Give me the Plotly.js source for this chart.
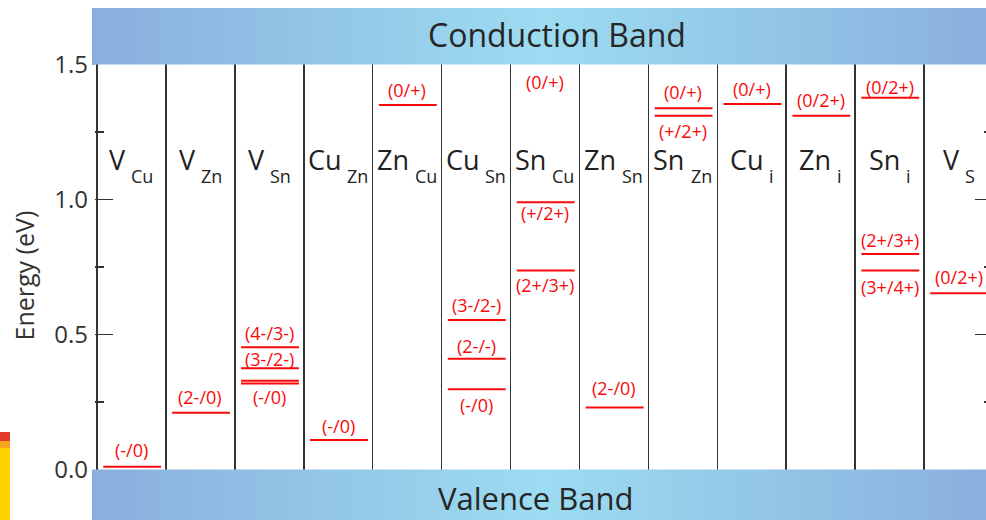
<!DOCTYPE html>
<html><head><meta charset="utf-8">
<script src="https://cdn.plot.ly/plotly-3.0.1.min.js"></script>
<style>html,body{margin:0;padding:0;overflow:hidden;background:#fff}#chart{width:993px;height:520px}</style>
</head><body><div id="chart"></div>
<script>
// ---- data ----
const defectBase = ['V','V','V','Cu','Zn','Cu','Sn','Zn','Sn','Cu','Zn','Sn','V'];
const defectSub  = ['Cu','Zn','Sn','Zn','Cu','Sn','Cu','Sn','Zn','i','i','i','S'];

// transition levels (column index, energy in eV above VBM)
const levelCol = [0,1,2,2,2,2,3,4,5,5,5,6,6,7,8,8,9,10,11,11,11,12];
const levelE   = [0.010,0.210,0.453,0.375,0.329,0.319,0.109,1.350,0.554,0.410,0.297,0.990,0.737,0.230,1.338,1.310,1.354,1.310,1.377,0.798,0.737,0.653];

// level labels (column index, energy at label centre, text)
const labelCol  = [0,1,2,2,2,3,4,5,5,5,6,6,6,7,8,8,9,10,11,11,11,12];
const labelE    = [0.072,0.270,0.507,0.410,0.270,0.163,1.406,0.609,0.457,0.239,1.436,0.949,0.683,0.301,1.399,1.255,1.410,1.369,1.416,0.851,0.675,0.713];
const labelText = ['(-/0)','(2-/0)','(4-/3-)','(3-/2-)','(-/0)','(-/0)','(0/+)','(3-/2-)','(2-/-)','(-/0)','(0/+)','(+/2+)','(2+/3+)','(2-/0)','(0/+)','(+/2+)','(0/+)','(0/2+)','(0/2+)','(2+/3+)','(3+/4+)','(0/2+)'];

const CBM = 1.5, VBM = 0.0;
const yTickVals = [0.0, 0.5, 1.0, 1.5];
const yMinorVals = [0.25, 0.75, 1.25];
const bandNames = ['Conduction Band', 'Valence Band'];
const yTitle = 'Energy (eV)';

// ---- layout geometry ----
const FONT = '"Open Sans", "DejaVu Sans", sans-serif';
const W = 993, H = 520, ML = 95, MT = 8;
const plotW = W - ML, plotH = H - MT;
const nCols = defectBase.length;
const xRange = [-0.029, nCols];
const yRange = [-0.187, 1.7093];
const px2x = px => (px - ML) / plotW;     // paper x
const px2y = py => (H - py) / plotH;      // paper y

const bandScale = [[0,'#8aafdd'],[0.5,'#9cdcf1'],[1,'#8aafdd']];

const traces = [];
// conduction band
traces.push({
  type:'scatter', mode:'none', fill:'toself', hoverinfo:'skip', showlegend:false,
  x:[xRange[0],xRange[1],xRange[1],xRange[0],xRange[0]],
  y:[CBM,CBM,yRange[1],yRange[1],CBM],
  fillgradient:{type:'horizontal', colorscale:bandScale}
});
// valence band
traces.push({
  type:'scatter', mode:'none', fill:'toself', hoverinfo:'skip', showlegend:false,
  x:[xRange[0],xRange[1],xRange[1],xRange[0],xRange[0]],
  y:[yRange[0],yRange[0],VBM,VBM,yRange[0]],
  fillgradient:{type:'horizontal', colorscale:bandScale}
});
// defect levels
const lx = [], ly = [];
levelCol.forEach((c,i) => { lx.push(c+0.09, c+0.93, null); ly.push(levelE[i], levelE[i], null); });
traces.push({
  type:'scatter', mode:'lines', x:lx, y:ly, yaxis:'y2', hoverinfo:'skip', showlegend:false,
  line:{color:'#f80a0a', width:2}
});

const annotations = [];
labelText.forEach((t,i) => annotations.push({
  x: labelCol[i]+0.5, y: labelE[i], xref:'x', yref:'y', text:t, showarrow:false,
  font:{family:FONT, size:18, color:'#f80a0a'}, xanchor:'center', yanchor:'middle'
}));

// column labels: base + subscript
const ctx = document.createElement('canvas').getContext('2d');
const tw = (t, s) => { ctx.font = s + 'px "Open Sans"'; return ctx.measureText(t).width; };
const MAIN = 27, SUB = 18, GAP = 6;
defectBase.forEach((b,c) => {
  const wm = tw(b, MAIN), ws = tw(defectSub[c], SUB);
  const left = -(wm + GAP + ws) / 2;
  annotations.push({x:c+0.5, y:px2y(159.5), xref:'x', yref:'paper', text:b, showarrow:false,
    xanchor:'left', yanchor:'middle', xshift:left-1, borderpad:0,
    font:{family:FONT, size:MAIN, color:'#222'}});
  annotations.push({x:c+0.5, y:px2y(176), xref:'x', yref:'paper', text:defectSub[c], showarrow:false,
    xanchor:'left', yanchor:'middle', xshift:left+wm+GAP-1, borderpad:0,
    font:{family:FONT, size:SUB, color:'#222'}});
});

annotations.push({x:px2x(556.5), y:px2y(34), xref:'paper', yref:'paper', text:bandNames[0], showarrow:false,
  xanchor:'center', yanchor:'middle', font:{family:FONT, size:32, color:'#262626'}});
annotations.push({x:px2x(535.5), y:px2y(498), xref:'paper', yref:'paper', text:bandNames[1], showarrow:false,
  xanchor:'center', yanchor:'middle', borderpad:0, font:{family:FONT, size:31, color:'#262626'}});
annotations.push({x:px2x(23), y:px2y(275.5), xref:'paper', yref:'paper', text:yTitle, showarrow:false,
  textangle:-90, xanchor:'center', yanchor:'middle', font:{family:FONT, size:25, color:'#333'}});

const shapes = [
  // band strips left of the axis
  {type:'rect', xref:'paper', yref:'paper', x0:px2x(92), x1:0, y0:px2y(65), y1:1, fillcolor:'#8aafdd', line:{width:0}, layer:'above'},
  {type:'rect', xref:'paper', yref:'paper', x0:px2x(92), x1:0, y0:0, y1:px2y(469.5), fillcolor:'#8aafdd', line:{width:0}, layer:'above'},
  // neighbouring-figure fragment at lower left
  {type:'rect', xref:'paper', yref:'paper', x0:px2x(0), x1:px2x(10), y0:px2y(441), y1:px2y(432), fillcolor:'#e23a2c', line:{width:0}, layer:'above'},
  {type:'rect', xref:'paper', yref:'paper', x0:px2x(0), x1:px2x(10), y0:px2y(448), y1:px2y(441), fillcolor:'#f7a51c', line:{width:0}, layer:'above'},
  {type:'rect', xref:'paper', yref:'paper', x0:px2x(0), x1:px2x(10), y0:0, y1:px2y(448), fillcolor:'#fdd400', line:{width:0}, layer:'above'}
];

const layout = {
  width:W, height:H, margin:{l:ML, r:0, t:MT, b:0, pad:0},
  paper_bgcolor:'#fff', plot_bgcolor:'#fff', showlegend:false, hovermode:false,
  font:{family:FONT},
  xaxis:{range:xRange, tickvals:Array.from({length:nCols+1},(_,i)=>i), showticklabels:false, ticks:'',
    showgrid:true, gridcolor:'#333', gridwidth:1.5, zeroline:false, showline:false, fixedrange:true},
  yaxis:{range:yRange, tickvals:yTickVals, ticktext:yTickVals.map(v=>v.toFixed(1)), ticks:'',
    ticklabelstandoff:6, showgrid:false, zeroline:false, showline:false, fixedrange:true,
    tickfont:{family:FONT, size:24, color:'#333'}},
  yaxis2:{range:yRange, overlaying:'y', side:'left', tickvals:[0.5,1.0], ticks:'inside', ticklen:18,
    tickwidth:1.5, tickcolor:'#333', mirror:'ticks', showticklabels:false, showgrid:false,
    zeroline:false, showline:false, fixedrange:true,
    minor:{tickvals:yMinorVals, ticks:'inside', ticklen:9, tickwidth:1.5, tickcolor:'#333', showgrid:false}},
  annotations, shapes
};

Plotly.newPlot('chart', traces, layout, {displayModeBar:false, staticPlot:true});
</script>
</body></html>
